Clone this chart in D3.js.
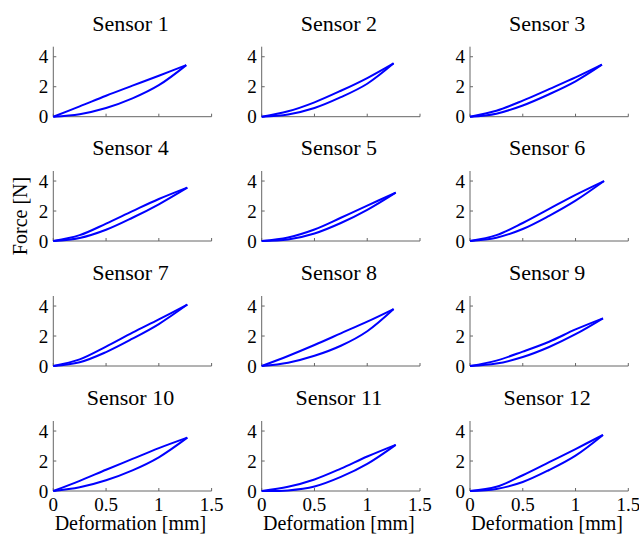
<!DOCTYPE html>
<html>
<head>
<meta charset="utf-8">
<script src="https://cdn.jsdelivr.net/npm/d3@7"></script>
<style>
  body { margin: 0; background: #fff; }
  .axis path, .axis line { stroke: #666; }
</style>
</head>
<body>
<div id="chart"></div>
<script>
// Hysteresis loops of 12 sensors, force vs deformation.
const sensorNames = ['Sensor 1', 'Sensor 2', 'Sensor 3', 'Sensor 4', 'Sensor 5', 'Sensor 6',
                     'Sensor 7', 'Sensor 8', 'Sensor 9', 'Sensor 10', 'Sensor 11', 'Sensor 12'];

// sample deformations [mm] used for both branches (the tip is added per sensor)
const deformPts = [0, 0.25, 0.5, 0.75, 1.0];

// turning point of each loop
const tipDeform = [1.26, 1.25, 1.25, 1.27, 1.27, 1.27, 1.27, 1.25, 1.26, 1.27, 1.27, 1.26];
const tipForce  = [3.44, 3.56, 3.47, 3.56, 3.23, 4.00, 4.10, 3.80, 3.18, 3.56, 3.08, 3.74];

// unloading branch (upper), force [N] at deformPts
const unloadForce = [
  [0, 0.69, 1.40, 2.07, 2.73],
  [0, 0.36, 0.96, 1.73, 2.58],
  [0, 0.40, 1.07, 1.84, 2.62],
  [0, 0.39, 1.16, 1.99, 2.80],
  [0, 0.24, 0.77, 1.55, 2.36],
  [0, 0.39, 1.20, 2.14, 3.08],
  [0, 0.44, 1.29, 2.22, 3.11],
  [0, 0.67, 1.40, 2.18, 2.96],
  [0, 0.36, 0.96, 1.62, 2.44],
  [0, 0.68, 1.42, 2.14, 2.86],
  [0, 0.28, 0.77, 1.49, 2.30],
  [0, 0.28, 1.05, 1.92, 2.80]
];

// loading branch (lower), force [N] at deformPts
const loadForce = [
  [0, 0.17, 0.58, 1.22, 2.10],
  [0, 0.15, 0.58, 1.30, 2.20],
  [0, 0.20, 0.75, 1.50, 2.36],
  [0, 0.20, 0.75, 1.55, 2.45],
  [0, 0.10, 0.50, 1.20, 2.08],
  [0, 0.22, 0.80, 1.68, 2.69],
  [0, 0.25, 0.93, 1.82, 2.80],
  [0, 0.22, 0.68, 1.35, 2.32],
  [0, 0.16, 0.60, 1.27, 2.12],
  [0, 0.25, 0.72, 1.38, 2.25],
  [0, 0.04, 0.30, 0.94, 1.81],
  [0, 0.14, 0.60, 1.40, 2.36]
];

const xTicks = [0, 0.5, 1, 1.5];
const yTicks = [0, 2, 4];

const FONT = '"Times New Roman", "Liberation Serif", "DejaVu Serif", serif';

const W = 639, H = 537;
const colLeft = [53.3, 261.7, 470];
const rowBottom = [116.7, 241, 366, 491];
const plotW = 158.3, plotH = 70;

const svg = d3.select('#chart').append('svg')
  .attr('width', W).attr('height', H)
  .attr('font-family', FONT);

const x = d3.scaleLinear().domain([0, 1.5]).range([0, plotW]);
const y = d3.scaleLinear().domain([0, 4.67]).range([plotH, 0]);

const line = d3.line()
  .x(d => x(d[0])).y(d => y(d[1]))
  .curve(d3.curveCatmullRom.alpha(0.5));

sensorNames.forEach((name, i) => {
  const r = Math.floor(i / 3), c = i % 3;
  const g = svg.append('g')
    .attr('transform', `translate(${colLeft[c]},${rowBottom[r] - plotH})`);

  const isBottom = r === 3;

  // y axis: line + inward ticks
  const yAx = g.append('g').attr('class', 'axis');
  yAx.append('line').attr('x1', 0).attr('x2', 0).attr('y1', 0).attr('y2', plotH);
  yAx.selectAll('.tk').data(yTicks).join('line')
    .attr('x1', 0).attr('x2', 3).attr('y1', d => y(d)).attr('y2', d => y(d));
  yAx.selectAll('text').data(yTicks).join('text')
    .attr('x', -5).attr('y', d => y(d)).attr('dy', '0.35em')
    .attr('text-anchor', 'end')
    .attr('font-family', FONT).attr('font-size', 19)
    .text(d => d);

  // x axis
  const xAx = g.append('g').attr('class', 'axis');
  xAx.append('line').attr('x1', 0).attr('x2', plotW).attr('y1', plotH).attr('y2', plotH);
  xAx.selectAll('.tk').data(xTicks).join('line')
    .attr('x1', d => x(d)).attr('x2', d => x(d)).attr('y1', plotH).attr('y2', plotH - 3);
  if (isBottom) {
    xAx.selectAll('text').data(xTicks).join('text')
      .attr('x', d => x(d)).attr('y', plotH + 20)
      .attr('text-anchor', 'middle')
      .attr('font-family', FONT).attr('font-size', 19)
      .text(d => d);
    g.append('text')
      .attr('x', plotW / 2 - 2).attr('y', plotH + 39)
      .attr('text-anchor', 'middle')
      .attr('font-family', FONT).attr('font-size', 20)
      .text('Deformation [mm]');
  }

  // title
  g.append('text')
    .attr('x', plotW / 2 - 2).attr('y', -16)
    .attr('text-anchor', 'middle')
    .attr('font-family', FONT).attr('font-size', 22)
    .text(name);

  // loops
  const tip = [tipDeform[i], tipForce[i]];
  const loadPts = deformPts.map((d, k) => [d, loadForce[i][k]]).concat([tip]);
  const unloadPts = deformPts.map((d, k) => [d, unloadForce[i][k]]).concat([tip]);
  [loadPts, unloadPts].forEach(pts => {
    g.append('path')
      .attr('d', line(pts))
      .attr('fill', 'none')
      .attr('stroke', '#0000ff')
      .attr('stroke-width', 2)
      .attr('stroke-linejoin', 'round');
  });
});

// shared y label
svg.append('text')
  .attr('transform', 'translate(27,216) rotate(-90)')
  .attr('text-anchor', 'middle')
  .attr('font-family', FONT).attr('font-size', 20)
  .text('Force [N]');
</script>
</body>
</html>
